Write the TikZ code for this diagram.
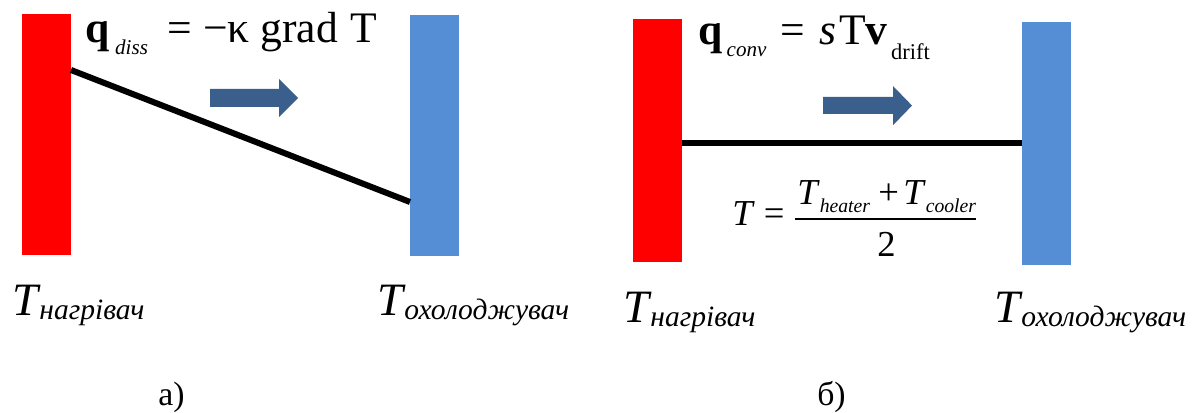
\documentclass[tikz,border=0pt]{standalone}
\usepackage{fontspec}
\setmainfont{Liberation Serif}
\usetikzlibrary{positioning}

\definecolor{heaterred}{RGB}{255,0,0}
\definecolor{coolerblue}{RGB}{85,142,213}
\definecolor{fluxblue}{RGB}{58,95,140}

% temperature with a large italic subscript
\newcommand{\Tsub}[1]{\textit{T}\kern-1pt\raisebox{-3pt}{\fontsize{21}{24}\selectfont\itshape #1}}

\begin{document}
\begin{tikzpicture}[
    bar/.style={rectangle, inner sep=0pt, outer sep=0pt, minimum width=1.225cm, anchor=south west},
    heater/.style={bar, fill=heaterred},
    cooler/.style={bar, fill=coolerblue},
    profile/.style={line width=4.3pt, black},
    flux/.style={fill=fluxblue},
    formula/.style={anchor=base west, inner sep=0pt, font=\fontsize{31}{34}\selectfont},
    mathtext/.style={inner sep=0pt, font=\fontsize{26}{30}\selectfont},
    templabel/.style={anchor=base west, inner sep=0pt, font=\fontsize{33}{36}\selectfont},
    panel/.style={anchor=base west, inner sep=0pt, font=\fontsize{24}{28}\selectfont}
]
    \useasboundingbox (0,0) rectangle (29.9,10.3);

    % ===== Panel (a): conduction =====
    \begin{scope}[local bounding box=conduction]
        \node[heater, minimum height=6.03cm] (heaterA) at (0.55,3.92) {};
        \node[cooler, minimum height=6.03cm] (coolerA) at (10.25,3.9) {};

        % Linear temperature profile
        \draw[profile] ([yshift=-1.4cm]heaterA.north east) -- ([yshift=1.35cm]coolerA.south west);

        % Heat flux arrow
        \fill[flux] (5.25,7.625) -- (6.975,7.625) -- (6.975,7.375) -- (7.45,7.85)
            -- (6.975,8.325) -- (6.975,8.075) -- (5.25,8.075) -- cycle;

        \node[formula] (fluxA) at (2.125,9.225)
            {\textbf{q}\kern4pt\raisebox{-8.5pt}{\fontsize{15}{18}\selectfont\itshape diss}\kern14pt= −κ grad\kern9pt T};

        % Labels
        \node[templabel] (hotA) at (0.3,2.425) {\Tsub{нагрівач}};
        \node[templabel] (coldA) at (9.425,2.425) {\Tsub{охолоджувач}};
        \node[panel] (tagA) at (3.95,0.175) {а)};
    \end{scope}

    % ===== Panel (b): convection =====
    \begin{scope}[local bounding box=convection]
        \node[heater, minimum height=6.075cm] (heaterB) at (15.825,3.75) {};
        \node[cooler, minimum height=6.075cm] (coolerB) at (25.55,3.675) {};

        % Uniform temperature profile
        \coordinate (midB) at ([yshift=-3.1cm]heaterB.north east);
        \draw[profile] (midB) -- (midB -| coolerB.west);

        % Drift arrow
        \fill[flux] (20.575,7.45) -- (22.325,7.45) -- (22.325,7.17) -- (22.8,7.66)
            -- (22.325,8.15) -- (22.325,7.875) -- (20.575,7.875) -- cycle;

        \node[formula] (fluxB) at (17.45,9.175)
            {\textbf{q}\kern3pt\raisebox{-8.5pt}{\fontsize{15}{18}\selectfont\itshape conv}\kern10pt=\kern10pt\textit{s}\kern2pt T\textbf{v}\raisebox{-10.5pt}{\fontsize{16}{18}\selectfont\,drift}};

        % Mean temperature
        \node[mathtext, anchor=base west] (meanT) at (18.3,4.675) {\textit{T} =};
        \node[mathtext, anchor=base west] (meanNum) at (19.925,5.175)
            {\textit{T}\raisebox{-5pt}{\fontsize{14}{16}\selectfont\itshape heater}\kern6pt+\kern3pt\textit{T}\raisebox{-5pt}{\fontsize{14}{16}\selectfont\itshape cooler}};
        \draw[line width=1.2pt] (19.875,4.825) -- (24.4,4.825);
        \node[mathtext, anchor=base] (meanDen) at (22.16,3.875) {2};

        % Labels
        \node[templabel] (hotB) at (15.575,2.25) {\Tsub{нагрівач}};
        \node[templabel] (coldB) at (24.85,2.25) {\Tsub{охолоджувач}};
        \node[panel] (tagB) at (20.425,0.175) {б)};
    \end{scope}

\end{tikzpicture}
\end{document}
